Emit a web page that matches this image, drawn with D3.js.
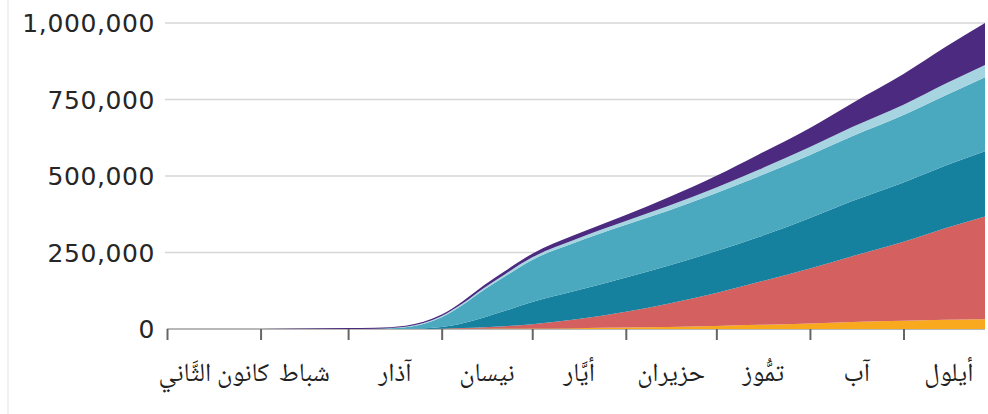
<!DOCTYPE html>
<html>
<head>
<meta charset="utf-8">
<script src="https://cdn.jsdelivr.net/npm/d3@7"></script>
<style>
  html, body { margin: 0; padding: 0; background: #ffffff; }
  svg { display: block; }
</style>
</head>
<body>
<svg id="chart" width="988" height="414"></svg>
<script>
// ---- Data (cumulative deaths, thousands) ----
const dates = ["2020-01-01","2020-01-22","2020-02-01","2020-02-15","2020-03-01","2020-03-10","2020-03-20",
  "2020-04-01","2020-04-08","2020-04-15","2020-04-22","2020-05-01","2020-05-15","2020-06-01","2020-06-15",
  "2020-07-01","2020-07-15","2020-08-01","2020-08-15","2020-09-01","2020-09-15","2020-09-28"];
const africa     = [0,0,0,0,0,0.01,0.03,0.2,0.5,0.9,1.3,1.9,2.8,4.6,6.8,9.8,13.5,18,23,27,30,32];
const latinAm    = [0,0,0,0,0,0,0.05,1.0,2.5,5,8,14,28,52,76,108,140,180,215,258,300,336];
const usCanada   = [0,0,0,0,0,0.03,0.25,5.5,16,32,50,72,93,112,124,137,147,165,180,194,204,213];
const europe     = [0,0,0,0,0.03,0.7,5.5,32,60,90,113,138,158,172,180,190,198,206,212,220,230,242];
const middleEast = [0,0,0,0,0.05,0.3,1.5,3.5,4.8,6,7,8.2,10,12,15,18,22,26,30,34,38,40];
const asia       = [0,0.02,0.26,1.6,2.9,3.2,3.5,5,7,9,10.5,12,15,20,28,38,50,62,78,100,120,137];

const seriesKeys = ["africa","latinAm","usCanada","europe","middleEast","asia"];
const seriesColors = ["#f8a91d","#d4615f","#16809f","#4aa8bf","#a7d4e1","#4b2a7f"];
const monthLabels = ["كانون الثَّاني","شباط","آذار","نيسان","أيَّار","حزيران","تمُّوز","آب","أيلول"];
const yTicks = [0, 250000, 500000, 750000, 1000000];

// ---- Build table ----
const parse = d3.timeParse("%Y-%m-%d");
const rows = dates.map((d, i) => ({
  date: parse(d),
  africa: africa[i] * 1000,
  latinAm: latinAm[i] * 1000,
  usCanada: usCanada[i] * 1000,
  europe: europe[i] * 1000,
  middleEast: middleEast[i] * 1000,
  asia: asia[i] * 1000
}));

const svg = d3.select("#chart");

const x = d3.scaleTime()
  .domain([parse("2020-01-01"), parse("2020-09-28")])
  .range([167, 985]);
const y = d3.scaleLinear()
  .domain([0, 1000000])
  .range([329, 23]);

// faint page border line at left
svg.append("line")
  .attr("x1", 8).attr("x2", 8).attr("y1", 0).attr("y2", 414)
  .attr("stroke", "#ececec").attr("stroke-width", 1.5);

// gridlines
svg.append("g").selectAll("line")
  .data(yTicks.filter(t => t > 0))
  .join("line")
  .attr("x1", 165).attr("x2", 985)
  .attr("y1", d => y(d)).attr("y2", d => y(d))
  .attr("stroke", "#d6d6d6").attr("stroke-width", 1.5);

// y labels
svg.append("g").selectAll("text")
  .data(yTicks)
  .join("text")
  .attr("x", 155)
  .attr("y", d => y(d))
  .attr("dy", "0.36em")
  .attr("text-anchor", "end")
  .attr("font-family", "'DejaVu Sans', sans-serif")
  .attr("font-size", 25)
  .attr("letter-spacing", 0.6)
  .attr("fill", "#262626")
  .text(d => d3.format(",")(d));

// stacked areas
const stack = d3.stack().keys(seriesKeys);
const layers = stack(rows);
const area = d3.area()
  .x(d => x(d.data.date))
  .y0(d => y(d[0]))
  .y1(d => y(d[1]))
  .curve(d3.curveMonotoneX);

// baseline axis line
svg.append("line")
  .attr("x1", 167).attr("x2", 985)
  .attr("y1", y(0)).attr("y2", y(0))
  .attr("stroke", "#a0a0a0").attr("stroke-width", 1.5);

svg.append("g").selectAll("path")
  .data(layers)
  .join("path")
  .attr("fill", (d, i) => seriesColors[i])
  .attr("d", area);

// x ticks at month starts
const months = d3.timeMonth.range(parse("2020-01-01"), parse("2020-10-01"));
const xAxis = d3.axisBottom(x)
  .tickValues(months)
  .tickSize(11)
  .tickFormat("");
const gx = svg.append("g")
  .attr("transform", `translate(0,${y(0)})`)
  .call(xAxis);
gx.select(".domain").remove();
gx.selectAll(".tick line").attr("stroke", "#666666").attr("stroke-width", 2);

// month labels centred mid-month
svg.append("g").selectAll("text")
  .data(months)
  .join("text")
  .attr("x", d => (x(d) + x(d3.timeMonth.offset(d, 1))) / 2)
  .attr("y", 381)
  .attr("text-anchor", "middle")
  .attr("direction", "rtl")
  .attr("font-family", "'Noto Naskh Arabic', 'Amiri', 'Scheherazade New', 'DejaVu Sans', serif")
  .attr("font-size", 26)
  .attr("fill", "#222222")
  .text((d, i) => monthLabels[i]);
</script>
</body>
</html>
